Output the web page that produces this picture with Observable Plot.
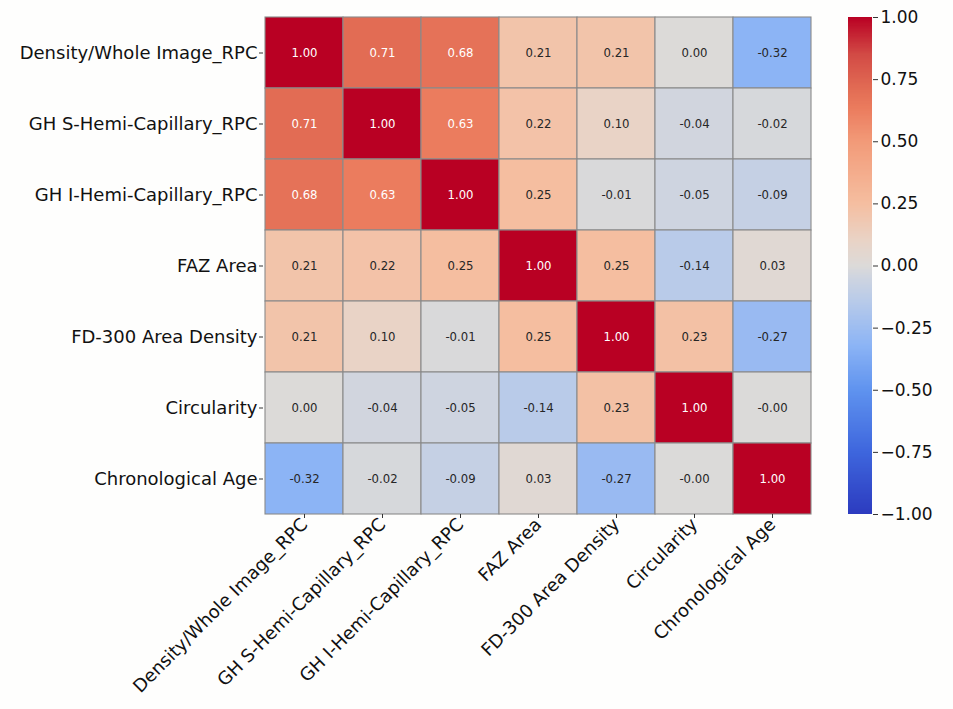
<!DOCTYPE html>
<html>
<head>
<meta charset="utf-8">
<script src="https://cdn.jsdelivr.net/npm/d3@7"></script>
<script src="https://cdn.jsdelivr.net/npm/@observablehq/plot@0.6"></script>
<style>
  html, body { margin: 0; padding: 0; background: #fefefd; }
  #wrap { position: relative; width: 953px; height: 709px; overflow: hidden; }
  #wrap > div, #wrap > svg { position: absolute; top: 0; }
</style>
</head>
<body>
<div id="wrap"></div>
<script>
// ---- Data ----
const variables = [
  "Density/Whole Image_RPC",
  "GH S-Hemi-Capillary_RPC",
  "GH I-Hemi-Capillary_RPC",
  "FAZ Area",
  "FD-300 Area Density",
  "Circularity",
  "Chronological Age"
];
const rowDensity      = [1.00, 0.71, 0.68, 0.21, 0.21, 0.00, -0.32];
const rowSHemi        = [0.71, 1.00, 0.63, 0.22, 0.10, -0.04, -0.02];
const rowIHemi        = [0.68, 0.63, 1.00, 0.25, -0.01, -0.05, -0.09];
const rowFAZ          = [0.21, 0.22, 0.25, 1.00, 0.25, -0.14, 0.03];
const rowFD300        = [0.21, 0.10, -0.01, 0.25, 1.00, 0.23, -0.27];
const rowCircularity  = [0.00, -0.04, -0.05, -0.14, 0.23, 1.00, -0.004];
const rowAge          = [-0.32, -0.02, -0.09, 0.03, -0.27, -0.004, 1.00];
const matrixRows = [rowDensity, rowSHemi, rowIHemi, rowFAZ, rowFD300, rowCircularity, rowAge];

const colorbarTicks = [1.00, 0.75, 0.50, 0.25, 0.00, -0.25, -0.50, -0.75, -1.00];

// colour map stops (coolwarm-like, as in the picture)
const cmapDomain = [-1.0, -0.75, -0.5, -0.32, -0.14, -0.05, 0.0, 0.1, 0.25, 0.5, 0.63, 0.71, 0.85, 1.0];
const cmapRange  = ["#2c3bbf", "#3e66dd", "#5f93ef", "#8cb4f5", "#b9cbe9", "#ced4e0", "#dcdad8",
                    "#e9d3c6", "#f5bea0", "#f29a78", "#eb7c5e", "#e26c54", "#d24a45", "#b90023"];

// ---- Table ----
const cells = [];
matrixRows.forEach((row, i) => row.forEach((v, j) => cells.push({row: variables[i], col: variables[j], v})));
const fmt = v => (v < 0 ? "-" : "") + Math.abs(v).toFixed(2);

const font = "DejaVu Sans, Verdana, sans-serif";
const W = 953, H = 709;
const plotTop = 17, plotBottom = 514, plotLeft = 263, plotRight = 813;

const heat = Plot.plot({
  width: 830,
  height: H,
  marginLeft: plotLeft,
  marginRight: 830 - plotRight,
  marginTop: plotTop,
  marginBottom: H - plotBottom,
  style: {fontFamily: font, background: "transparent", color: "#111"},
  x: {type: "band", domain: variables, padding: 0, label: null},
  y: {type: "band", domain: variables, padding: 0, label: null},
  color: {type: "linear", domain: cmapDomain, range: cmapRange, interpolate: "rgb", clamp: true},
  marks: [
    Plot.cell(cells, {x: "col", y: "row", fill: "v", stroke: "#8a8a8a", strokeWidth: 1.1, inset: 0}),
    Plot.text(cells, {x: "col", y: "row", text: d => fmt(d.v), fill: d => d.v >= 0.5 ? "#ffffff" : "#262626",
      fontSize: 11.7, fontFamily: font}),
    Plot.axisY({tickSize: 4, tickPadding: 2, fontSize: 18, label: null, stroke: "#333"}),
    Plot.axisX({tickSize: 4, tickPadding: 3, tickRotate: -45, fontSize: 18, label: null, stroke: "#333"})
  ]
});
heat.style.left = "0px";

// colour bar
const barValues = d3.range(-1, 1, 0.005);
const barLeft = 848, barWidth = 24;
const bar = Plot.plot({
  width: W - barLeft,
  height: H,
  marginLeft: 0,
  marginRight: W - barLeft - barWidth,
  marginTop: plotTop,
  marginBottom: H - plotBottom,
  style: {fontFamily: font, background: "transparent", color: "#111"},
  x: {domain: [0, 1], axis: null},
  y: {domain: [-1, 1], label: null},
  color: {type: "linear", domain: cmapDomain, range: cmapRange, interpolate: "rgb", clamp: true},
  marks: [
    Plot.rect(barValues, {x1: 0, x2: 1, y1: d => d, y2: d => Math.min(1, d + 0.012), fill: d => d + 0.0025,
      shapeRendering: "crispEdges"}),
    Plot.axisY({anchor: "right", ticks: colorbarTicks, tickFormat: d3.format(".2f"), tickSize: 5, tickPadding: 3,
      fontSize: 17, label: null, stroke: "#333"})
  ]
});
bar.style.left = barLeft + "px";

const wrap = document.getElementById("wrap");
wrap.appendChild(heat);
wrap.appendChild(bar);
</script>
</body>
</html>
